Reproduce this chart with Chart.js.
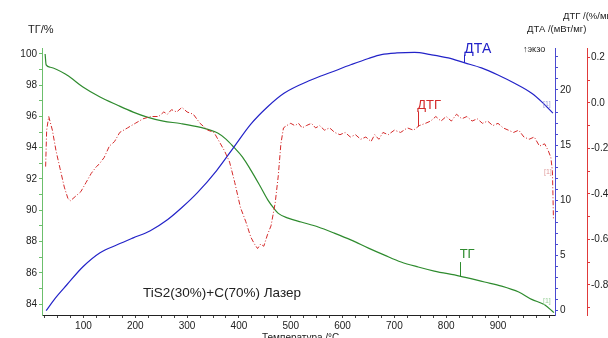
<!DOCTYPE html>
<html><head><meta charset="utf-8">
<script src="https://cdn.jsdelivr.net/npm/chart.js@4/dist/chart.umd.min.js"></script>
<style>html,body{margin:0;padding:0;background:#fff;overflow:hidden}canvas{display:block}</style>
</head><body>
<canvas id="c" width="608" height="338"></canvas>
<script>
// ТГ (mass, %)
const tgTemp = [26,28,36,68,99,132,165,196,223,254,287,326,359,375,390,407,423,440,456,468,476,495,520,553,584,617,650,681,713,746,777,826,874,907,940,965,990,1008];
const tgVal  = [100.0,99.3,99.15,98.65,97.88,97.24,96.73,96.28,95.96,95.70,95.55,95.30,94.94,94.55,94.04,93.4,92.57,91.6,90.65,90.1,89.8,89.5,89.25,88.93,88.54,88.09,87.58,87.13,86.69,86.37,86.11,85.79,85.41,85.15,84.77,84.3,83.95,83.45];
// ДТА (mW/mg)
const dtaTemp = [28,45,68,99,132,165,196,229,262,290,320,357,390,423,456,487,539,578,617,650,675,705,739,770,804,836,868,900,932,965,985,1006];
const dtaVal  = [0.0,1.1,2.35,3.98,5.25,5.97,6.6,7.25,8.24,9.35,10.7,12.7,14.8,16.9,18.5,19.7,20.9,21.6,22.3,22.85,23.2,23.35,23.4,23.2,22.9,22.45,22.0,21.35,20.6,19.7,18.9,17.9];
// ДТГ (%/min)
const dtgTemp = [27,29,33,40,47,55,63,70,75,85,95,105,115,125,130,140,150,160,170,185,200,215,230,245,255,262,270,280,290,300,312,325,340,352,362,372,382,392,403,413,423,430,436,442,448,455,462,470,476,481,486,492,500,508,515,522,530,540,548,556,565,575,585,595,605,615,625,635,645,655,662,670,678,688,700,712,725,737,748,760,770,780,790,800,810,820,830,840,850,860,870,880,890,900,910,920,930,940,950,960,970,980,990,997,1002,1005,1006,1007];
const dtgVal  = [-0.28,-0.12,-0.06,-0.12,-0.21,-0.29,-0.37,-0.42,-0.43,-0.41,-0.39,-0.35,-0.31,-0.28,-0.27,-0.24,-0.19,-0.17,-0.13,-0.11,-0.09,-0.07,-0.06,-0.06,-0.04,-0.05,-0.03,-0.04,-0.02,-0.04,-0.05,-0.09,-0.12,-0.13,-0.17,-0.21,-0.26,-0.35,-0.46,-0.52,-0.59,-0.62,-0.64,-0.62,-0.63,-0.58,-0.54,-0.44,-0.32,-0.18,-0.11,-0.10,-0.09,-0.10,-0.09,-0.11,-0.10,-0.09,-0.11,-0.10,-0.12,-0.11,-0.13,-0.14,-0.13,-0.15,-0.14,-0.16,-0.15,-0.17,-0.14,-0.16,-0.13,-0.14,-0.12,-0.13,-0.11,-0.12,-0.10,-0.09,-0.08,-0.06,-0.08,-0.06,-0.08,-0.05,-0.07,-0.06,-0.08,-0.07,-0.09,-0.08,-0.10,-0.09,-0.11,-0.12,-0.13,-0.12,-0.15,-0.16,-0.15,-0.19,-0.18,-0.21,-0.24,-0.30,-0.40,-0.51];

const xLabelTicks = [100,200,300,400,500,600,700,800,900];
const tgLabelTicks = [84,86,88,90,92,94,96,98,100];
const dtaLabelTicks = [0,5,10,15,20];
const dtgLabelTicks = [0.2,0.0,-0.2,-0.4,-0.6,-0.8];

const GREEN = '#2e8b2e', BLUE = '#2323c8', RED = '#d42a2a';
const FONT = '"Liberation Sans", Arial, sans-serif';
const pts = (xs, ys) => xs.map((x, i) => ({x, y: ys[i]}));
const interp = (xs, ys, t) => { for (let i = 1; i < xs.length; i++) if (t <= xs[i]) { const f = (t - xs[i-1]) / (xs[i] - xs[i-1]); return ys[i-1] + f * (ys[i] - ys[i-1]); } return ys[ys.length-1]; };
const near = (v, arr) => arr.some(a => Math.abs(a - v) < 1e-6);

const annot = {
  id: 'annot',
  afterDraw(chart) {
    const ctx = chart.ctx, s = chart.scales;
    ctx.save();
    const txt = (t, x, y, size, color, base) => {
      ctx.font = size + 'px ' + FONT; ctx.fillStyle = color; ctx.textAlign = 'left';
      ctx.textBaseline = base || 'middle'; ctx.fillText(t, x, y);
    };
    txt('ТГ/%', 28, 30, 11, '#222');
    txt('ДТА /(мВт/мг)', 527, 29, 9.5, '#222');
    txt('ДТГ /(%/мин)', 563, 16, 9.5, '#222');
    txt('↑экзо', 523, 50, 9, '#222');
    txt('TiS2(30%)+C(70%) Лазер', 143, 293, 13.5, '#222');
    txt('Температура /°C', 262, 333, 10, '#222', 'top');
    const leader = (T, ys, scale, color, len) => {
      const x = s.x.getPixelForValue(T), y = s[scale].getPixelForValue(ys);
      ctx.strokeStyle = color; ctx.lineWidth = 1; ctx.beginPath();
      ctx.moveTo(Math.round(x) + 0.5, y); ctx.lineTo(Math.round(x) + 0.5, y - len); ctx.stroke();
      return {x, y};
    };
    let p = leader(835, interp(dtaTemp, dtaVal, 835), 'y1', BLUE, 8);
    txt('ДТА', p.x, p.y - 14, 14, BLUE);
    p = leader(746, interp(dtgTemp, dtgVal, 746), 'y2', RED, 15);
    txt('ДТГ', p.x - 1, p.y - 21, 13, RED);
    p = leader(826, interp(tgTemp, tgVal, 826), 'y', GREEN, 14);
    txt('ТГ', p.x, p.y - 22, 13, GREEN);
    txt('[1]', 543, 104, 7, '#9a9ad8');
    txt('[1]', 544, 172, 7, '#e09a9a');
    txt('[1]', 543, 301, 7, '#9ad09a');
    ctx.restore();
  }
};

const tickFont = {family: FONT, size: 10};
new Chart(document.getElementById('c'), {
  type: 'line',
  data: {
    datasets: [
      {label: 'ДТГ', data: pts(dtgTemp, dtgVal), yAxisID: 'y2', borderColor: RED, borderWidth: 1, borderDash: [5,2,1,2], pointRadius: 0, tension: 0},
      {label: 'ДТА', data: pts(dtaTemp, dtaVal), yAxisID: 'y1', borderColor: BLUE, borderWidth: 1.2, pointRadius: 0, cubicInterpolationMode: 'monotone'},
      {label: 'ТГ', data: pts(tgTemp, tgVal), yAxisID: 'y', borderColor: GREEN, borderWidth: 1.2, pointRadius: 0, cubicInterpolationMode: 'monotone'}
    ]
  },
  options: {
    responsive: false, animation: false, devicePixelRatio: 1,
    layout: {padding: {top: 48, left: 0, right: 0, bottom: 0}},
    plugins: {legend: {display: false}, tooltip: {enabled: false}},
    scales: {
      x: {type: 'linear', min: 20, max: 1010,
        afterFit: sc => { sc.height = 23; },
        border: {display: true, color: '#222'},
        grid: {drawOnChartArea: false, drawTicks: true, tickLength: 3, color: '#444'},
        ticks: {stepSize: 25, includeBounds: false, autoSkip: false, maxRotation: 0, padding: 2, color: '#222', font: tickFont,
          callback: v => near(v, xLabelTicks) ? String(v) : ''}},
      y: {position: 'left', min: 83.3, max: 100.38,
        afterFit: sc => { sc.width = 42; },
        border: {display: true, color: '#6cbf6c'},
        grid: {drawOnChartArea: false, tickLength: 3, color: '#6cbf6c'},
        ticks: {stepSize: 1, includeBounds: false, autoSkip: false, padding: 2, color: '#222', font: tickFont,
          callback: v => near(v, tgLabelTicks) ? String(v) : ''}},
      y1: {position: 'right', weight: 0, min: -0.39, max: 23.8,
        afterFit: sc => { sc.width = 32; },
        border: {display: true, color: '#4a4ad0'},
        grid: {drawOnChartArea: false, tickLength: 3, color: '#4a4ad0'},
        ticks: {stepSize: 1, includeBounds: false, autoSkip: false, padding: 2, color: '#222', font: tickFont,
          callback: v => near(v, dtaLabelTicks) ? String(v) : ''}},
      y2: {position: 'right', weight: 1, min: -0.932, max: 0.241,
        afterFit: sc => { sc.width = 21; },
        border: {display: true, color: '#e03a3a'},
        grid: {drawOnChartArea: false, tickLength: 3, color: '#e03a3a'},
        ticks: {stepSize: 0.1, includeBounds: false, autoSkip: false, padding: 1, color: '#222', font: tickFont,
          callback: v => near(Math.round(v * 10) / 10, dtgLabelTicks) ? (Math.round(v * 10) / 10).toFixed(1) : ''}}
    }
  },
  plugins: [annot]
});
</script>
</body></html>
